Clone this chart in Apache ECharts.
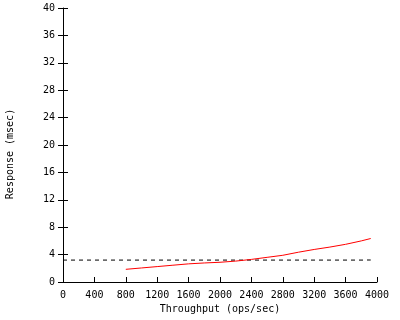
<!DOCTYPE html>
<html><head><meta charset="utf-8">
<script src="https://cdn.jsdelivr.net/npm/echarts@6/dist/echarts.min.js"></script>
<style>html,body{margin:0;padding:0;background:#fff}#c{width:400px;height:320px}</style>
</head><body><div id="c"></div>
<script>
var throughput = [800, 1000, 1200, 1400, 1600, 1800, 2000, 2200, 2400, 2600, 2800, 3000, 3200, 3400, 3600, 3800, 3920];
var responseMs = [1.85, 2.05, 2.25, 2.45, 2.65, 2.78, 2.88, 3.05, 3.3, 3.6, 3.9, 4.35, 4.75, 5.1, 5.5, 6.0, 6.35];
var refX = [0, 3920];
var refY = [3.2, 3.2];
var xTicks = [0, 400, 800, 1200, 1600, 2000, 2400, 2800, 3200, 3600, 4000];
var yTicks = [0, 4, 8, 12, 16, 20, 24, 28, 32, 36, 40];

var font = 'DejaVu Sans Mono';
var chart = echarts.init(document.getElementById('c'));
function pairs(xs, ys){ return xs.map(function(x,i){ return [x, ys[i]]; }); }
chart.setOption({
  animation: false,
  backgroundColor: '#fff',
  grid: {left: 63, right: 23, top: 8, bottom: 38, containLabel: false, outerBoundsMode: 'none'},
  xAxis: [{
    type: 'value', min: 0, max: 4000, interval: 400,
    name: 'Throughput (ops/sec)', nameLocation: 'middle', nameGap: 20,
    nameTextStyle: {fontFamily: font, fontSize: 10, color: '#000'},
    axisLine: {lineStyle: {color: '#000', width: 1}},
    axisTick: {inside: true, length: 5, lineStyle: {color: '#000'}},
    axisLabel: {fontFamily: font, fontSize: 10, color: '#000', margin: 8, formatter: function(v){ return String(v); }},
    splitLine: {show: false}
  }],
  yAxis: [{
    type: 'value', min: 0, max: 40, interval: 4,
    name: 'Response (msec)', nameLocation: 'middle', nameGap: 48,
    nameTextStyle: {fontFamily: font, fontSize: 10, color: '#000', padding: [0, 18, 0, 0]},
    axisLine: {lineStyle: {color: '#000', width: 1}},
    axisTick: {inside: false, length: 5, lineStyle: {color: '#000'}},
    axisLabel: {fontFamily: font, fontSize: 10, color: '#000', margin: 8, formatter: function(v){ return String(v); }},
    splitLine: {show: false}
  }, {
    type: 'value', min: 0, max: 40, interval: 4, position: 'left',
    axisLine: {show: false},
    axisTick: {inside: true, length: 5, lineStyle: {color: '#000'}},
    axisLabel: {show: false},
    splitLine: {show: false}
  }],
  series: [{
    type: 'line', data: pairs(refX, refY), symbol: 'none',
    lineStyle: {color: '#000', width: 1, type: [4, 4]}
  }, {
    type: 'line', data: pairs(throughput, responseMs), symbol: 'none',
    lineStyle: {color: '#ff0000', width: 1}
  }]
});
</script></body></html>
